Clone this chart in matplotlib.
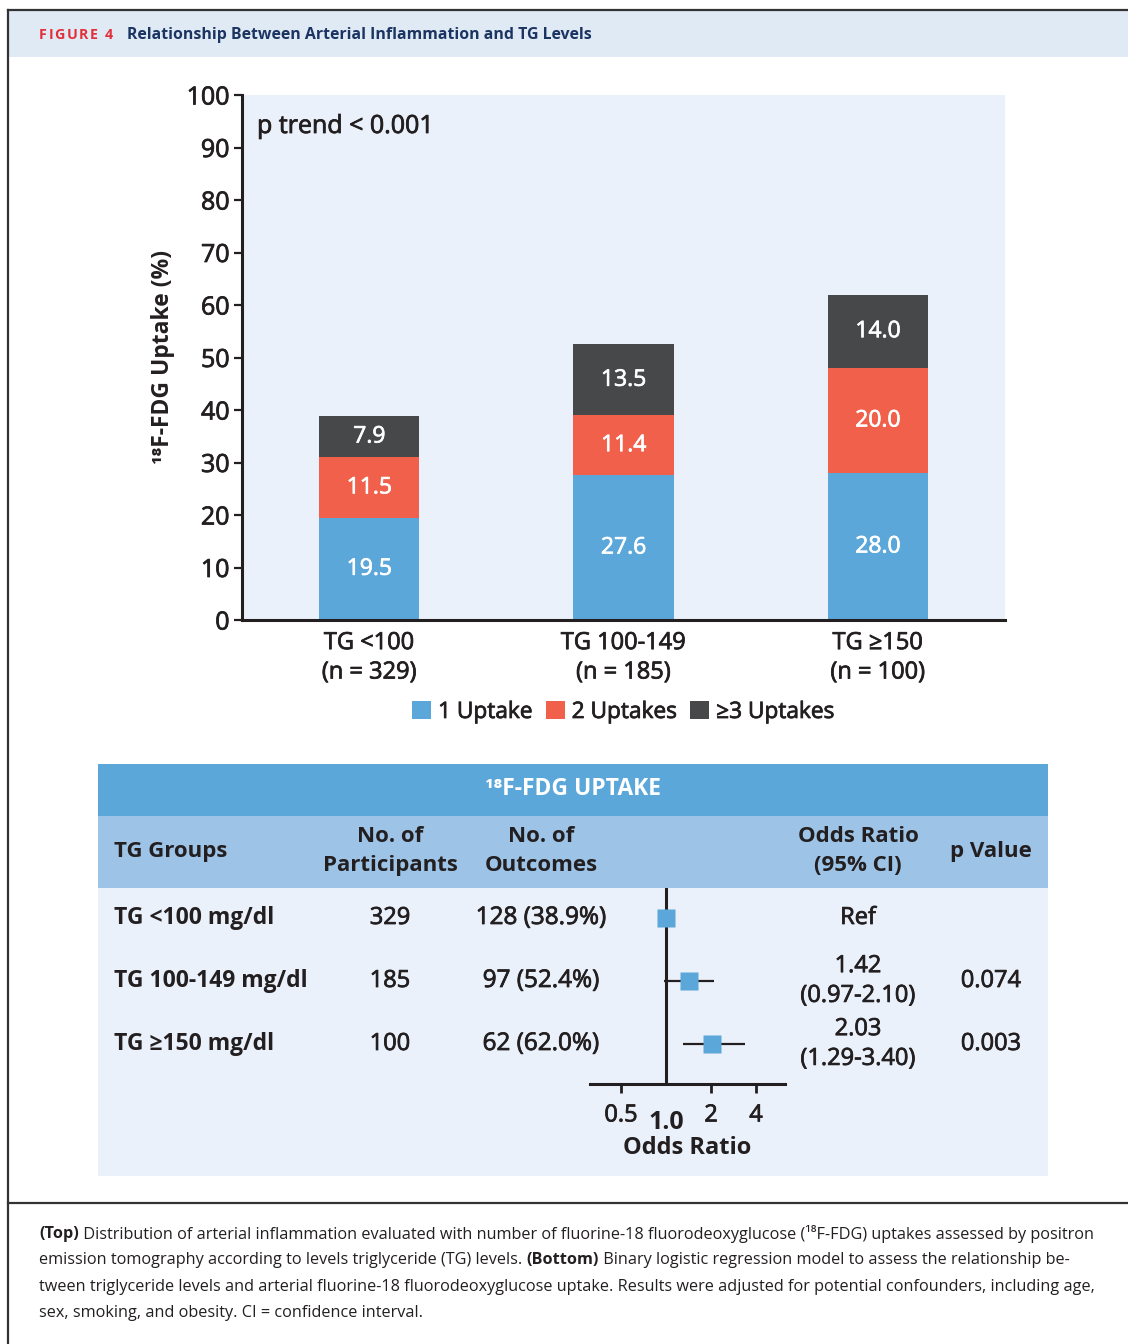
import matplotlib
matplotlib.use("Agg")
import matplotlib.pyplot as plt
import matplotlib.patheffects as pe
from matplotlib.patches import Patch
from matplotlib.ticker import FixedLocator, FixedFormatter, NullLocator
import numpy as np

plt.rcParams["font.family"] = ["Open Sans", "Noto Sans", "DejaVu Sans"]

# ---- data -------------------------------------------------------------
groups = ["TG <100\n(n = 329)", "TG 100-149\n(n = 185)", "TG \u2265150\n(n = 100)"]
one_uptake = [19.5, 27.6, 28.0]
two_uptakes = [11.5, 11.4, 20.0]
three_plus_uptakes = [7.9, 13.5, 14.0]
series_names = ["1 Uptake", "2 Uptakes", "\u22653 Uptakes"]
y_ticks = [0, 10, 20, 30, 40, 50, 60, 70, 80, 90, 100]

table_groups = ["TG <100 mg/dl", "TG 100-149 mg/dl", "TG \u2265150 mg/dl"]
participants = ["329", "185", "100"]
outcomes = ["128 (38.9%)", "97 (52.4%)", "62 (62.0%)"]
odds_ratio = [1.00, 1.42, 2.03]
ci_low = [np.nan, 0.97, 1.29]
ci_high = [np.nan, 2.10, 3.40]
or_labels = ["Ref", "1.42\n(0.97-2.10)", "2.03\n(1.29-3.40)"]
p_values = ["", "0.074", "0.003"]
or_ticks = [0.5, 2, 4]
or_tick_labels = ["0.5", "2", "4"]

# ---- style --------------------------------------------------------------
BLUE = "#5ba7da"
RED = "#f0604a"
DARK = "#47484a"
INK = "#231f20"
PANEL = "#eaf1fa"
HEAD_BAND = "#dfeaf5"
TABLE_TOP = "#5ba7da"
TABLE_HEAD = "#9dc3e7"
NAVY = "#1c3461"
FIG_RED = "#e2303a"

# slightly heavier strokes for the regular-weight labels
INK_FX = [pe.withStroke(linewidth=0.55, foreground=INK)]
WHITE_FX = [pe.withStroke(linewidth=0.5, foreground="white")]

W, H = 1128, 1344
fig = plt.figure(figsize=(W / 100, H / 100), dpi=100)


def rect(x0, y0, x1, y1):
    return [x0 / W, 1 - y1 / H, (x1 - x0) / W, (y1 - y0) / H]


# ---- page frame, header band and caption ----------------------------------
page = fig.add_axes([0, 0, 1, 1])
page.set_xlim(0, W)
page.set_ylim(H, 0)
page.axis("off")
page.axhspan(10, 57, xmin=8 / W, xmax=1, color=HEAD_BAND, lw=0)
page.plot([8, W], [10, 10], color="#333333", lw=1.6)
page.plot([8, 8], [10, H], color="#333333", lw=1.6)
page.plot([8, W], [1203, 1203], color="#333333", lw=1.6)

# letter-spaced "FIGURE 4" tag, one glyph after another
prev = page.text(39, 35, "F", color=FIG_RED, fontsize=10.3, fontweight="bold",
                 va="center", ha="left")
for ch in "IGURE 4":
    prev = page.annotate(ch, xy=(1, 0.5), xycoords=prev, xytext=(1.1, 0),
                         textcoords="offset points", va="center", ha="left",
                         color=FIG_RED, fontsize=10.3, fontweight="bold")
page.annotate("Relationship Between Arterial Inflammation and TG Levels",
              xy=(1, 0.5), xycoords=prev, xytext=(10, 0),
              textcoords="offset points", va="center", ha="left",
              color=NAVY, fontsize=11.4, fontweight="bold")

cap_size = 11.7
caption_lines = [
    [("(Top)", "bold"),
     (" Distribution of arterial inflammation evaluated with number of fluorine-18 "
      "fluorodeoxyglucose (\u00b9\u2078F-FDG) uptakes assessed by positron", "normal")],
    [("emission tomography according to levels triglyceride (TG) levels. ", "normal"),
     ("(Bottom)", "bold"),
     (" Binary logistic regression model to assess the relationship be-", "normal")],
    [("tween triglyceride levels and arterial fluorine-18 fluorodeoxyglucose uptake. "
      "Results were adjusted for potential confounders, including age,", "normal")],
    [("sex, smoking, and obesity. CI = confidence interval.", "normal")],
]
for i, parts in enumerate(caption_lines):
    y = 1234 + i * 26.4
    prev = None
    for txt, weight in parts:
        if prev is None:
            prev = page.text(39, y, txt, fontsize=cap_size, fontweight=weight,
                             color=INK, va="center", ha="left")
        else:
            prev = page.annotate(txt, xy=(1, 0.5), xycoords=prev, va="center",
                                 ha="left", fontsize=cap_size, fontweight=weight,
                                 color=INK)

# ---- stacked bar chart -----------------------------------------------------
ax = fig.add_axes(rect(242, 95, 1005, 620))
ax.set_facecolor(PANEL)
x = np.arange(len(groups))
bw = 0.394
b1 = np.array(one_uptake)
b2 = np.array(two_uptakes)
b3 = np.array(three_plus_uptakes)
ax.bar(x, b1, width=bw, color=BLUE, zorder=2)
ax.bar(x, b2, width=bw, bottom=b1, color=RED, zorder=2)
ax.bar(x, b3, width=bw, bottom=b1 + b2, color=DARK, zorder=2)
for xi, v1, v2, v3 in zip(x, b1, b2, b3):
    for bottom, val in ((0, v1), (v1, v2), (v1 + v2, v3)):
        ax.text(xi, bottom + val / 2, f"{val:.1f}", ha="center", va="center",
                color="white", fontsize=16.5, zorder=3, path_effects=WHITE_FX)

ax.set_xlim(-0.5, 2.5)
ax.set_ylim(0, 100)
ax.set_yticks(y_ticks)
ax.set_xticks(x)
ax.set_xticklabels(groups)
for s in ("top", "right"):
    ax.spines[s].set_visible(False)
for s in ("left", "bottom"):
    ax.spines[s].set_linewidth(2.2)
    ax.spines[s].set_color(INK)
ax.tick_params(axis="y", length=6, width=1.6, color=INK, labelsize=18,
               labelcolor=INK, pad=3)
ax.tick_params(axis="x", length=0, labelsize=17, labelcolor=INK, pad=8)
for lbl in ax.get_xticklabels() + ax.get_yticklabels():
    lbl.set_path_effects(INK_FX)
for lbl in ax.get_xticklabels():
    lbl.set_linespacing(1.3)
ax.set_ylabel("\u00b9\u2078F-FDG Uptake (%)", fontsize=16.5, fontweight="bold",
              color=INK)
ax.yaxis.set_label_coords(-0.088, 0.5)
ax.text(0.0197, 0.94, "p trend < 0.001", transform=ax.transAxes, fontsize=18,
        color=INK, ha="left", va="center", path_effects=INK_FX)

handles = [Patch(facecolor=c, edgecolor="none") for c in (BLUE, RED, DARK)]
leg = ax.legend(handles, series_names, loc="center",
                bbox_to_anchor=(623 / W, 1 - 712 / H),
                bbox_transform=fig.transFigure, ncol=3, frameon=False,
                fontsize=16.3, handlelength=0.85, handleheight=0.85,
                handletextpad=0.3, columnspacing=0.6, labelcolor=INK)
for txt in leg.get_texts():
    txt.set_path_effects(INK_FX)

# ---- regression table ------------------------------------------------------
tab = fig.add_axes(rect(98, 764, 1048, 1176))
tab.set_xlim(98, 1048)
tab.set_ylim(1176, 764)
tab.axis("off")
tab.axhspan(764, 816, color=TABLE_TOP, lw=0)
tab.axhspan(816, 888, color=TABLE_HEAD, lw=0)
tab.axhspan(888, 1176, color=PANEL, lw=0)

tab.text(573, 789, "\u00b9\u2078F-FDG UPTAKE", color="white", fontsize=16.5,
         fontweight="bold", ha="center", va="center")
hdr = dict(fontsize=16, fontweight="bold", color=INK, va="center", linespacing=1.45)
tab.text(114, 851, "TG Groups", ha="left", **hdr)
tab.text(390, 851, "No. of\nParticipants", ha="center", **hdr)
tab.text(541, 851, "No. of\nOutcomes", ha="center", **hdr)
tab.text(858, 851, "Odds Ratio\n(95% CI)", ha="center", **hdr)
tab.text(991, 851, "p Value", ha="center", **hdr)

row_y = [918, 981, 1044]
cell = dict(va="center", ha="center", fontsize=17, color=INK, path_effects=INK_FX)
for yy, g, n, o, orl, pv in zip(row_y, table_groups, participants, outcomes,
                                or_labels, p_values):
    tab.text(114, yy, g, ha="left", va="center", fontsize=16.5,
             fontweight="bold", color=INK)
    tab.text(390, yy, n, **cell)
    tab.text(541, yy, o, **{**cell, "fontsize": 17.5})
    tab.text(858, yy, orl, linespacing=1.32, **cell)
    tab.text(991, yy, pv, **cell)

# ---- forest plot (log2 odds ratio axis) ------------------------------------
fo = fig.add_axes(rect(590, 888, 785, 1084))
fo.patch.set_alpha(0)
fo.set_xscale("log", base=2)
fo.set_xlim(2 ** (-76 / 45), 2 ** (119 / 45))
rows = np.arange(len(odds_ratio))
fo.set_ylim(2.635, -0.476)
for s in ("top", "right", "left"):
    fo.spines[s].set_visible(False)
fo.spines["bottom"].set_linewidth(2.2)
fo.spines["bottom"].set_color(INK)
fo.axvline(1, color=INK, lw=2.2, zorder=1)
fo.hlines(rows, ci_low, ci_high, color=INK, lw=1.6, zorder=2)
fo.plot(odds_ratio, rows, "s", ms=12.5, color=BLUE, mec="none", zorder=3)
fo.yaxis.set_major_locator(NullLocator())
fo.xaxis.set_major_locator(FixedLocator(or_ticks))
fo.xaxis.set_major_formatter(FixedFormatter(or_tick_labels))
fo.xaxis.set_minor_locator(FixedLocator([1.0]))
fo.xaxis.set_minor_formatter(FixedFormatter(["1.0"]))
fo.tick_params(axis="x", which="major", length=6.5, width=2, color=INK,
               labelsize=17, labelcolor=INK, pad=7.5)
fo.tick_params(axis="x", which="minor", length=0, labelsize=18,
               labelcolor=INK, pad=19)
for lbl in fo.get_xticklabels():
    lbl.set_path_effects(INK_FX)
for lbl in fo.get_xticklabels(minor=True):
    lbl.set_fontweight("bold")
fo.set_xlabel("Odds Ratio", fontsize=17, fontweight="bold", color=INK)
fo.xaxis.set_label_coords(0.5, -0.266)

fig.savefig("out.png", dpi=100)
